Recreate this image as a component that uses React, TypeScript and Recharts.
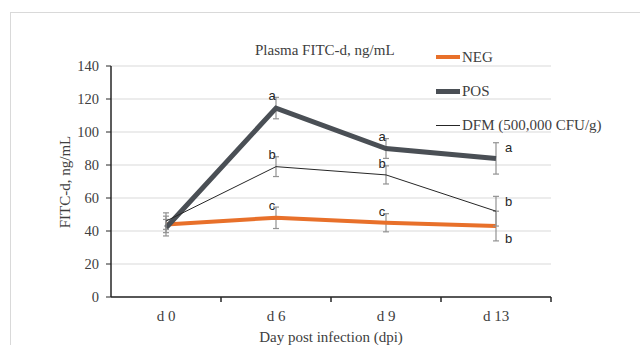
import { LineChart, Line, XAxis, YAxis, CartesianGrid, ErrorBar, LabelList } from "recharts";

const days = ["d 0", "d 6", "d 9", "d 13"];

const neg = [44, 48, 45, 43];
const negErr = [5, 6.5, 5.5, 9];
const negTags = ["", "c", "c", "b"];

const pos = [42, 114.5, 90, 84];
const posErr = [5, 6.5, 6, 9.5];
const posTags = ["", "a", "a", "a"];

const dfm = [46, 79, 74, 52];
const dfmErr = [5, 6, 5.5, 9];
const dfmTags = ["", "b", "b", "b"];

const yTicks = [0, 20, 40, 60, 80, 100, 120, 140];

const last = days.length - 1;

// letters sit at the end of the error bar; the last NEG one goes under its bar
const data = days.map((day, i) => ({
  day,
  neg: neg[i],
  negErr: negErr[i],
  negTag: negTags[i],
  negMark: i === last ? neg[i] - negErr[i] : neg[i] + negErr[i],
  pos: pos[i],
  posErr: posErr[i],
  posTag: posTags[i],
  posMark: pos[i] + posErr[i],
  dfm: dfm[i],
  dfmErr: dfmErr[i],
  dfmTag: dfmTags[i],
  dfmMark: dfm[i] + dfmErr[i],
}));

const SERIF = "'Liberation Serif', 'Times New Roman', serif";
const SANS = "'Liberation Sans', Arial, sans-serif";
const TEXT = "#404040";
const NEG_COLOR = "#E8702A";
const POS_COLOR = "#4A4F55";
const DFM_COLOR = "#262626";
const ERR_COLOR = "#929292";

const legendItems = [
  { name: "NEG", color: NEG_COLOR, width: 4 },
  { name: "POS", color: POS_COLOR, width: 5 },
  { name: "DFM (500,000 CFU/g)", color: DFM_COLOR, width: 1 },
];

const makeTag = (below: boolean) => (props: any) => {
  const { x, y, value, index } = props;
  if (!value) return null;
  const right = index === last;
  const dy = right ? (below ? -2 : 5) : -2;
  return (
    <text
      x={x + (right ? 9 : -4)}
      y={y + dy}
      textAnchor={right ? "start" : "middle"}
      dominantBaseline="central"
      fontFamily={SANS}
      fontSize={13}
      fill="#262626"
    >
      {value}
    </text>
  );
};

const DayTick = (props: any) => {
  const { x, y, payload } = props;
  const half = payload.offset || 55;
  return (
    <g>
      <line x1={x + half} y1={y} x2={x + half} y2={y + 5} stroke="#262626" strokeWidth={1.5} />
      <text x={x} y={y + 24} textAnchor="middle" fontFamily={SERIF} fontSize={15} fill={TEXT}>
        {payload.value}
      </text>
    </g>
  );
};

export default function App() {
  return (
    <div style={{ position: "absolute", left: 0, top: 0, width: 640, height: 345, overflow: "hidden", background: "#fff" }}>
      <div
        style={{
          position: "absolute",
          left: 10,
          top: 12,
          width: 700,
          height: 400,
          border: "1px solid #d9d9d9",
        }}
      />
      <div
        style={{
          position: "absolute",
          left: 255,
          top: 42,
          fontFamily: SERIF,
          fontSize: 15,
          color: TEXT,
          whiteSpace: "nowrap",
        }}
      >
        Plasma FITC-d, ng/mL
      </div>
      <div style={{ position: "absolute", left: 0, top: 0 }}>
        <LineChart width={640} height={345} data={data} margin={{ top: 66, right: 89, bottom: 18, left: 71 }}>
          <CartesianGrid vertical={false} stroke="#d9d9d9" />
          <XAxis
            dataKey="day"
            scale="band"
            axisLine={{ stroke: "#262626", strokeWidth: 1.5 }}
            tickLine={false}
            tickSize={0}
            tickMargin={0}
            height={30}
            tick={<DayTick />}
            interval={0}
            label={{
              value: "Day post infection (dpi)",
              content: () => (
                <text x={331} y={342} textAnchor="middle" fontFamily={SERIF} fontSize={15} fill={TEXT}>
                  Day post infection (dpi)
                </text>
              ),
            }}
          />
          <YAxis
            domain={[0, 140]}
            ticks={yTicks}
            width={40}
            axisLine={{ stroke: "#262626", strokeWidth: 1.5 }}
            tickLine={{ stroke: "#262626" }}
            tickSize={5}
            tickMargin={7}
            tick={{ fontFamily: SERIF, fontSize: 14.5, fill: TEXT }}
            label={{
              value: "FITC-d, ng/mL",
              content: () => (
                <text
                  x={70}
                  y={182}
                  transform="rotate(-90 70 182)"
                  textAnchor="middle"
                  fontFamily={SERIF}
                  fontSize={15}
                  fill={TEXT}
                >
                  FITC-d, ng/mL
                </text>
              ),
            }}
          />
          <Line
            dataKey="neg"
            name="NEG"
            stroke={NEG_COLOR}
            strokeWidth={4}
            dot={false}
            activeDot={false}
            isAnimationActive={false}
          >
            <ErrorBar dataKey="negErr" width={3} stroke={ERR_COLOR} strokeWidth={1.2} direction="y" />
          </Line>
          <Line
            dataKey="pos"
            name="POS"
            stroke={POS_COLOR}
            strokeWidth={5}
            dot={false}
            activeDot={false}
            isAnimationActive={false}
          >
            <ErrorBar dataKey="posErr" width={3} stroke={ERR_COLOR} strokeWidth={1.2} direction="y" />
          </Line>
          <Line
            dataKey="dfm"
            name="DFM (500,000 CFU/g)"
            stroke={DFM_COLOR}
            strokeWidth={1}
            dot={false}
            activeDot={false}
            isAnimationActive={false}
          >
            <ErrorBar dataKey="dfmErr" width={3} stroke={ERR_COLOR} strokeWidth={1.2} direction="y" />
          </Line>
          <Line dataKey="negMark" stroke="none" dot={false} activeDot={false} legendType="none" isAnimationActive={false}>
            <LabelList dataKey="negTag" content={makeTag(true)} />
          </Line>
          <Line dataKey="posMark" stroke="none" dot={false} activeDot={false} legendType="none" isAnimationActive={false}>
            <LabelList dataKey="posTag" content={makeTag(false)} />
          </Line>
          <Line dataKey="dfmMark" stroke="none" dot={false} activeDot={false} legendType="none" isAnimationActive={false}>
            <LabelList dataKey="dfmTag" content={makeTag(false)} />
          </Line>
        </LineChart>
      </div>
      <div style={{ position: "absolute", left: 436, top: 40, fontFamily: SERIF, fontSize: 15, color: TEXT }}>
        {legendItems.map((it) => (
          <div key={it.name} style={{ display: "flex", alignItems: "center", height: 34, whiteSpace: "nowrap" }}>
            <span
              style={{ display: "inline-block", width: 24, height: it.width, background: it.color, marginRight: 2 }}
            />
            <span>{it.name}</span>
          </div>
        ))}
      </div>
    </div>
  );
}
